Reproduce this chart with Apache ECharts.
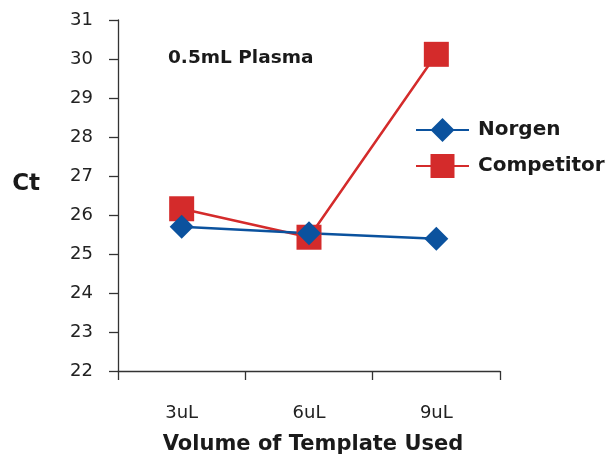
<!DOCTYPE html>
<html><head><meta charset="utf-8">
<script src="https://cdn.jsdelivr.net/npm/echarts@6/dist/echarts.min.js"></script>
<style>html,body{margin:0;padding:0;background:#fff}#c{width:611px;height:464px}</style>
</head><body><div id="c"></div>
<script>
const categories = ['3uL', '6uL', '9uL'];
const norgen = [25.7, 25.53, 25.39];
const competitor = [26.16, 25.43, 30.12];
const yTicks = { min: 22, max: 31, interval: 1 };

const FONT = '"DejaVu Sans", Verdana, sans-serif';
const chart = echarts.init(document.getElementById('c'), null, { renderer: 'canvas' });
chart.setOption({
  animation: false,
  backgroundColor: '#fff',
  title: {
    text: '0.5mL Plasma', left: 163, top: 44,
    textStyle: { fontFamily: FONT, fontWeight: 'bold', fontSize: 18.5, color: '#1a1a1a' }
  },
  legend: {
    orient: 'vertical', left: 415, top: 118, padding: 0, itemWidth: 53, itemHeight: 30, itemGap: 12,
    data: ['Norgen', 'Competitor'],
    textStyle: { fontFamily: FONT, fontWeight: 'bold', fontSize: 20, color: '#1a1a1a', padding: [0, 0, 0, 4] }
  },
  grid: { left: 118, right: 111, top: 20, bottom: 93, containLabel: false, outerBoundsMode: 'none' },
  xAxis: {
    type: 'category', data: categories, boundaryGap: true,
    name: 'Volume of Template Used', nameLocation: 'middle', nameGap: 63,
    nameTextStyle: { fontFamily: FONT, fontWeight: 'bold', fontSize: 21, color: '#1a1a1a', padding: [0, 0, 0, 8] },
    axisLine: { lineStyle: { color: '#333', width: 1.3 } },
    axisTick: { show: true, length: 9, alignWithLabel: false, lineStyle: { color: '#333', width: 1.3 } },
    axisLabel: { margin: 33, fontFamily: FONT, fontSize: 18, color: '#222' },
    splitLine: { show: false }
  },
  yAxis: {
    type: 'value', min: yTicks.min, max: yTicks.max, interval: yTicks.interval,
    name: 'Ct', nameLocation: 'middle', nameRotate: 0, nameGap: 78,
    nameTextStyle: { fontFamily: FONT, fontWeight: 'bold', fontSize: 23, color: '#1a1a1a', verticalAlign: 'bottom' },
    axisLine: { show: true, lineStyle: { color: '#333', width: 1.3 } },
    axisTick: { show: true, length: 9, lineStyle: { color: '#333', width: 1.3 } },
    axisLabel: { margin: 25, fontFamily: FONT, fontSize: 18, color: '#222' },
    splitLine: { show: false }
  },
  series: [
    {
      name: 'Competitor', type: 'line', data: competitor,
      symbol: 'rect', symbolSize: 25,
      lineStyle: { color: '#D42B2B', width: 2.5 },
      itemStyle: { color: '#D42B2B' }
    },
    {
      name: 'Norgen', type: 'line', data: norgen,
      symbol: 'diamond', symbolSize: 24,
      lineStyle: { color: '#0B529E', width: 2.5 },
      itemStyle: { color: '#0B529E' }
    }
  ]
});
</script></body></html>
